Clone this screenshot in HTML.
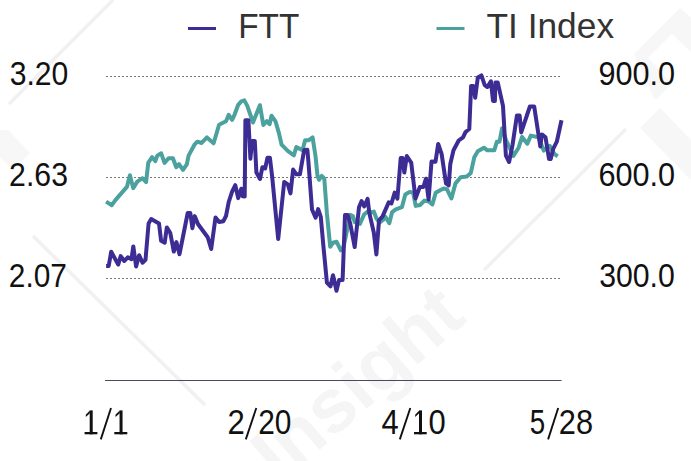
<!DOCTYPE html>
<html><head><meta charset="utf-8"><title>FTT vs TI Index</title>
<style>
html,body{margin:0;padding:0;background:#fff;}
body{width:691px;height:461px;overflow:hidden;font-family:"Liberation Sans",sans-serif;}
svg{display:block;}
text{font-family:"Liberation Sans",sans-serif;}
</style></head><body>
<svg width="691" height="461" viewBox="0 0 691 461">
<rect width="691" height="461" fill="#ffffff"/>
<!-- faint watermark -->
<g fill="none" stroke="#f1f1f1" stroke-width="3.5" stroke-linecap="butt">
<line x1="9" y1="104" x2="113" y2="0"/>
<line x1="33" y1="236" x2="205" y2="405"/>
<line x1="626" y1="129" x2="484" y2="270"/>
</g>
<g fill="#f7f7f7">
<polygon points="634,54 680,8 691,18 691,52 672,34 648,58 672,84 655,100"/>
<polygon points="640,128 660,108 691,140 691,180"/>
<polygon points="0,130 8,130 30,153 13,170 0,157"/>
</g>
<text x="280" y="484" font-size="76" font-weight="bold" fill="#f5f5f5" transform="rotate(-41 280 484)">Insight</text>
<!-- gridlines -->
<g stroke="#777" stroke-width="1" stroke-dasharray="2 2" fill="none">
<line x1="106" y1="76.5" x2="560" y2="76.5"/>
<line x1="106" y1="177.5" x2="560" y2="177.5"/>
<line x1="106" y1="278.5" x2="560" y2="278.5"/>
</g>
<line x1="105" y1="380.5" x2="561.5" y2="380.5" stroke="#4a4a58" stroke-width="1.1"/>
<!-- series -->
<polyline points="106.1,201.6 111.8,205.2 115.6,199.9 126.9,186.9 129.9,175.2 133.2,188.1 137.3,181.7 142.5,178.2 146.1,182.0 148.3,162.6 152.1,157.2 155.3,161.1 157.3,155.6 161.2,153.3 164.5,162.9 168.6,158.2 172.9,158.2 176.3,167.2 179.0,164.1 183.0,169.8 186.8,164.3 188.6,155.6 194.7,144.3 197.3,141.7 201.6,143.0 206.9,137.4 213.6,143.3 219.1,124.7 226.0,121.3 228.7,114.9 232.1,119.8 234.7,114.3 238.2,104.8 241.3,101.3 244.3,100.4 247.2,105.6 253.0,122.5 259.9,105.2 263.3,125.0 266.9,121.1 269.6,124.2 271.5,115.7 275.5,121.3 279.0,133.4 281.6,144.7 287.7,150.8 293.9,155.3 296.3,147.1 302.6,150.1 305.1,140.3 308.5,140.3 312.6,137.4 315.5,156.0 317.5,176.0 319.0,179.8 321.7,175.9 324.3,178.7 326.9,213.4 330.2,246.8 333.0,242.6 336.5,241.7 340.8,250.3 343.5,247.0 347.7,227.3 350.2,214.9 352.9,216.0 354.7,222.1 359.9,223.9 364.2,214.3 367.7,211.7 371.2,212.5 373.8,211.6 376.7,218.9 379.5,222.6 383.0,220.0 385.4,216.8 389.3,223.2 392.0,212.4 395.8,209.3 401.9,207.2 405.3,194.5 409.7,191.9 413.2,192.8 415.7,205.9 420.1,205.0 424.4,200.6 428.8,201.5 432.4,204.4 435.7,192.8 440.1,190.2 443.5,188.5 447.0,189.3 451.4,198.4 455.5,183.4 460.7,177.3 466.8,176.5 470.8,172.9 474.3,157.3 477.8,151.2 483.9,147.7 487.3,150.3 494.3,150.3 496.9,141.7 499.5,141.7 502.1,128.2 506.0,140.0 513.4,155.9 518.6,147.7 522.0,137.0 527.3,143.7 530.8,135.6 538.6,137.3 543.7,150.6 547.3,146.9 549.9,146.0 554.2,153.8 557.7,156.4" fill="none" stroke="#4ba19e" stroke-width="4.0" stroke-linejoin="round" stroke-linecap="butt"/>
<polyline points="106.1,266.0 108.7,266.0 111.2,251.7 118.2,264.6 120.7,256.1 124.3,261.0 127.8,257.3 131.4,259.2 133.3,246.4 136.1,266.4 139.1,255.2 142.5,262.7 145.5,259.9 148.6,223.4 151.2,219.0 159.0,223.4 161.1,240.8 164.7,242.7 166.8,227.4 170.3,233.0 173.8,251.6 176.4,242.1 179.5,254.2 187.7,213.0 190.3,212.9 192.4,228.2 194.7,216.1 198.1,224.3 207.7,237.3 211.2,249.0 215.5,217.4 219.1,222.0 223.4,221.2 226.0,216.0 228.7,202.1 232.1,191.7 235.3,185.2 238.2,198.1 241.3,188.7 242.8,196.3 244.7,196.4 245.4,120.3 248.4,120.3 250.4,158.7 252.0,141.1 254.8,141.1 256.4,172.6 260.0,179.0 262.4,167.2 265.2,168.4 267.4,157.8 269.9,157.7 272.1,176.0 278.2,239.1 284.2,181.9 287.8,184.4 290.5,193.4 293.1,169.6 296.4,174.3 299.9,174.3 304.2,149.9 307.4,149.8 308.5,163.0 312.0,209.5 315.6,217.7 318.2,209.1 320.8,216.9 323.4,246.0 326.9,282.5 330.5,286.3 333.0,275.2 336.5,290.7 339.1,279.9 342.6,280.0 345.0,215.0 347.7,215.1 350.3,223.8 354.7,247.1 359.0,207.3 361.6,201.0 364.2,206.5 367.6,198.8 369.4,213.4 373.8,232.5 376.4,254.4 379.0,220.3 382.6,216.4 388.7,202.4 391.4,203.5 394.7,192.6 397.4,198.6 400.7,158.1 402.6,158.1 404.3,172.6 406.8,156.1 411.2,162.6 415.5,198.6 419.9,186.9 423.4,186.9 426.0,178.7 428.6,199.5 431.5,161.6 435.5,161.7 438.2,143.9 441.6,153.9 446.0,183.4 448.7,185.4 450.3,164.0 453.5,150.3 458.7,140.5 463.0,137.3 465.6,132.0 469.3,129.0 471.1,85.9 473.4,86.0 475.2,97.8 477.8,77.4 481.4,75.4 484.7,85.2 487.3,87.0 490.9,81.3 493.0,100.9 494.9,100.9 495.4,82.5 497.8,82.6 503.0,106.0 505.9,155.6 509.1,162.0 512.5,145.1 516.9,115.6 519.6,115.5 521.2,132.4 529.9,106.5 534.2,106.5 540.3,146.5 541.9,134.4 545.5,137.3 549.0,159.0 550.7,159.0 553.3,148.6 556.8,141.7 561.5,120.3" fill="none" stroke="#3d2c93" stroke-width="4.0" stroke-linejoin="round" stroke-linecap="butt"/>
<!-- legend -->
<line x1="188" y1="28.5" x2="216" y2="28.5" stroke="#3d2c93" stroke-width="3"/>
<line x1="436.5" y1="28.5" x2="464.5" y2="28.5" stroke="#4ba19e" stroke-width="3"/>
<text x="238.20" y="38.20" font-size="35.00" fill="#333" textLength="61.16" lengthAdjust="spacingAndGlyphs">FTT</text>
<text x="486.45" y="38.20" font-size="35.00" fill="#333" textLength="127.61" lengthAdjust="spacingAndGlyphs">TI Index</text>
<text x="9.65" y="85.40" font-size="33.30" fill="#111" textLength="58.69" lengthAdjust="spacingAndGlyphs">3.20</text>
<text x="9.10" y="186.40" font-size="33.30" fill="#111" textLength="58.87" lengthAdjust="spacingAndGlyphs">2.63</text>
<text x="8.85" y="287.20" font-size="33.30" fill="#111" textLength="58.13" lengthAdjust="spacingAndGlyphs">2.07</text>
<text x="598.45" y="85.40" font-size="33.30" fill="#111" textLength="76.69" lengthAdjust="spacingAndGlyphs">900.0</text>
<text x="598.45" y="186.40" font-size="33.30" fill="#111" textLength="76.69" lengthAdjust="spacingAndGlyphs">600.0</text>
<text x="599.20" y="287.20" font-size="33.30" fill="#111" textLength="75.65" lengthAdjust="spacingAndGlyphs">300.0</text>
<text x="227.45" y="434.20" font-size="34.30" fill="#111" textLength="17.31" lengthAdjust="spacingAndGlyphs">2</text>
<text x="258.25" y="434.40" font-size="34.30" fill="#111" textLength="33.23" lengthAdjust="spacingAndGlyphs">20</text>
<text x="381.50" y="434.20" font-size="34.30" fill="#111" textLength="17.21" lengthAdjust="spacingAndGlyphs">4</text>
<text x="428.50" y="434.40" font-size="34.30" fill="#111" textLength="17.22" lengthAdjust="spacingAndGlyphs">0</text>
<text x="529.65" y="434.40" font-size="34.30" fill="#111" textLength="15.43" lengthAdjust="spacingAndGlyphs">5</text>
<text x="558.85" y="434.40" font-size="34.30" fill="#111" textLength="34.23" lengthAdjust="spacingAndGlyphs">28</text>
<g fill="#111"><rect x="89.70" y="410.40" width="3.0" height="23.90"/><rect x="84.60" y="432.00" width="12.80" height="2.3"/><polygon points="85.80,414.80 89.90,410.60 89.90,413.20 85.80,417.00"/><rect x="119.55" y="410.40" width="3.0" height="23.90"/><rect x="114.30" y="432.00" width="13.00" height="2.3"/><polygon points="115.50,414.80 119.75,410.60 119.75,413.20 115.50,417.00"/><rect x="419.00" y="410.40" width="3.0" height="23.90"/><rect x="414.00" y="432.00" width="12.70" height="2.3"/><polygon points="415.20,414.80 419.20,410.60 419.20,413.20 415.20,417.00"/></g><line x1="100.80" y1="439.4" x2="111.00" y2="408.0" stroke="#111" stroke-width="1.9"/><line x1="245.80" y1="439.4" x2="256.30" y2="408.0" stroke="#111" stroke-width="1.9"/><line x1="399.80" y1="439.4" x2="410.30" y2="408.0" stroke="#111" stroke-width="1.9"/><line x1="548.10" y1="439.4" x2="558.20" y2="408.0" stroke="#111" stroke-width="1.9"/>
</svg>
</body></html>
